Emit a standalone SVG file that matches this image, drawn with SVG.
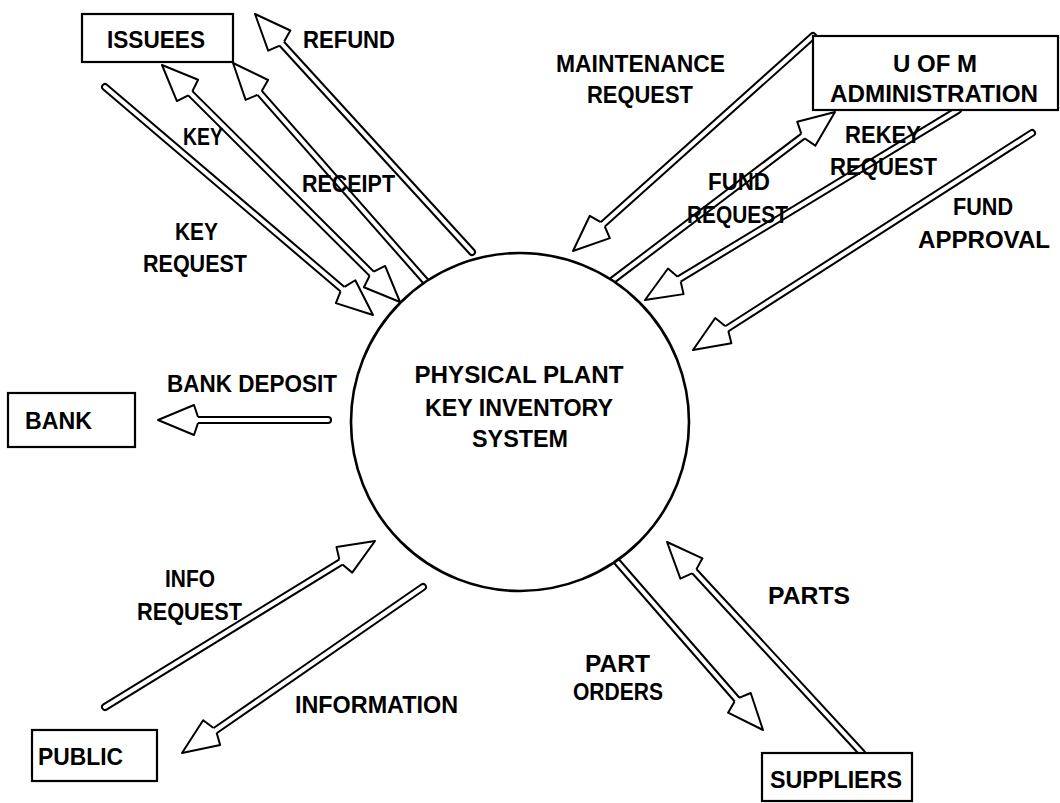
<svg xmlns="http://www.w3.org/2000/svg" xmlns:xlink="http://www.w3.org/1999/xlink" width="1060" height="803" viewBox="0 0 1060 803">
  <style>
    .t { font-family: "Liberation Sans", Arial, sans-serif; font-weight: bold; font-size: 23px; fill: #000; }
    .tc { font-family: "Liberation Sans", Arial, sans-serif; font-weight: bold; font-size: 24px; fill: #000; text-anchor: middle; }
    .box { fill: #fff; stroke: #000; stroke-width: 2.2; }
    .proc { fill: #fff; stroke: #000; stroke-width: 2.6; }
    .so { fill: none; stroke: #000; stroke-width: 8; stroke-linecap: round; }
    .si { fill: none; stroke: #fff; stroke-width: 4; stroke-linecap: round; }
  </style>
  <defs>
    <!-- hollow arrowhead, tip at origin, pointing along +x -->
    <g id="ah">
      <path d="M0,0 L-36,-15 L-40,-3 L-40,3 L-36,15 Z" fill="#fff" stroke="none"/>
      <path d="M-40,-3 L-36,-15 L0,0 L-36,15 L-40,3" fill="none" stroke="#000" stroke-width="2" stroke-linejoin="round"/>
    </g>
    <!-- shaft centre lines -->
    <path id="s-keyreq" d="M105,87 L354,299"/>
    <path id="s-key" d="M180,83 L382,284"/>
    <path id="s-receipt" d="M428,284 L250,82"/>
    <path id="s-refund" d="M472,252 L272,33"/>
    <path id="s-maint" d="M813,36 L592,234"/>
    <path id="s-fundreq" d="M609,283 L815,127"/>
    <path id="s-rekey" d="M958,110 L666,287"/>
    <path id="s-fundapp" d="M1032,133 L714,337"/>
    <path id="s-bank" d="M328,420 L183,420"/>
    <path id="s-inforeq" d="M105,707 L354,554"/>
    <path id="s-info" d="M423,587 L203,739"/>
    <path id="s-orders" d="M612,556 L747,711"/>
    <path id="s-parts" d="M862,753 L684,560"/>
  </defs>

  <rect width="1060" height="803" fill="#fff"/>

  <!-- data flows -->
  <g id="connectors">
    <g id="c-key-request"><use xlink:href="#s-keyreq" class="so"/><use xlink:href="#s-keyreq" class="si"/><use xlink:href="#ah" transform="translate(373,315) rotate(40.4)"/></g>
    <g id="c-key"><use xlink:href="#s-key" class="so"/><use xlink:href="#s-key" class="si"/><use xlink:href="#ah" transform="translate(162,65) rotate(224.9)"/><use xlink:href="#ah" transform="translate(400,302) rotate(44.9)"/></g>
    <g id="c-receipt"><use xlink:href="#s-receipt" class="so"/><use xlink:href="#s-receipt" class="si"/><use xlink:href="#ah" transform="translate(233,63) rotate(228.5)"/></g>
    <g id="c-refund"><use xlink:href="#s-refund" class="so"/><use xlink:href="#s-refund" class="si"/><use xlink:href="#ah" transform="translate(255,14) rotate(227.6)"/></g>
    <g id="c-maintenance"><use xlink:href="#s-maint" class="so"/><use xlink:href="#s-maint" class="si"/><use xlink:href="#ah" transform="translate(573,251) rotate(138.1)"/></g>
    <g id="c-fund-request"><use xlink:href="#s-fundreq" class="so"/><use xlink:href="#s-fundreq" class="si"/><use xlink:href="#ah" transform="translate(835,112) rotate(-37)"/></g>
    <g id="c-rekey"><use xlink:href="#s-rekey" class="so"/><use xlink:href="#s-rekey" class="si"/><use xlink:href="#ah" transform="translate(645,300) rotate(148.7)"/></g>
    <g id="c-fund-approval"><use xlink:href="#s-fundapp" class="so"/><use xlink:href="#s-fundapp" class="si"/><use xlink:href="#ah" transform="translate(693,350) rotate(147.4)"/></g>
    <g id="c-bank-deposit"><use xlink:href="#s-bank" class="so"/><use xlink:href="#s-bank" class="si"/><use xlink:href="#ah" transform="translate(158,420) rotate(180)"/></g>
    <g id="c-info-request"><use xlink:href="#s-inforeq" class="so"/><use xlink:href="#s-inforeq" class="si"/><use xlink:href="#ah" transform="translate(375,541) rotate(-31.6)"/></g>
    <g id="c-information"><use xlink:href="#s-info" class="so"/><use xlink:href="#s-info" class="si"/><use xlink:href="#ah" transform="translate(182,753) rotate(145.4)"/></g>
    <g id="c-part-orders"><use xlink:href="#s-orders" class="so"/><use xlink:href="#s-orders" class="si"/><use xlink:href="#ah" transform="translate(763,730) rotate(49)"/></g>
    <g id="c-parts"><use xlink:href="#s-parts" class="so"/><use xlink:href="#s-parts" class="si"/><use xlink:href="#ah" transform="translate(667,542) rotate(227.3)"/></g>
  </g>

  <!-- central process -->
  <g id="n-system">
    <circle class="proc" cx="520" cy="422" r="169"/>
    <text class="tc" x="519" y="383" textLength="209" lengthAdjust="spacingAndGlyphs">PHYSICAL PLANT</text>
    <text class="tc" x="519" y="416" textLength="188" lengthAdjust="spacingAndGlyphs">KEY INVENTORY</text>
    <text class="tc" x="520" y="447" textLength="96" lengthAdjust="spacingAndGlyphs">SYSTEM</text>
  </g>

  <!-- external entities -->
  <g id="n-issuees">
    <rect class="box" x="82" y="14" width="151" height="48"/>
    <text class="t" x="107" y="48" textLength="98" lengthAdjust="spacingAndGlyphs">ISSUEES</text>
  </g>
  <g id="n-admin">
    <rect class="box" x="813" y="36" width="245" height="74"/>
    <text class="t" x="893" y="72" textLength="84" lengthAdjust="spacingAndGlyphs">U OF M</text>
    <text class="t" x="830" y="102" textLength="208" lengthAdjust="spacingAndGlyphs">ADMINISTRATION</text>
  </g>
  <g id="n-bank">
    <rect class="box" x="8" y="393" width="127" height="54"/>
    <text class="t" x="25" y="429" textLength="67" lengthAdjust="spacingAndGlyphs">BANK</text>
  </g>
  <g id="n-public">
    <rect class="box" x="32" y="730" width="125" height="51"/>
    <text class="t" x="38" y="765" textLength="85" lengthAdjust="spacingAndGlyphs">PUBLIC</text>
  </g>
  <g id="n-suppliers">
    <rect class="box" x="762" y="753" width="150" height="48"/>
    <text class="t" x="770" y="788" textLength="132" lengthAdjust="spacingAndGlyphs">SUPPLIERS</text>
  </g>

  <!-- flow labels -->
  <g id="labels">
    <text class="t" x="303" y="48" textLength="92" lengthAdjust="spacingAndGlyphs">REFUND</text>
    <text class="t" x="183" y="145" textLength="40" lengthAdjust="spacingAndGlyphs">KEY</text>
    <text class="t" x="302" y="192" textLength="93" lengthAdjust="spacingAndGlyphs">RECEIPT</text>
    <text class="t" x="175" y="240" textLength="43" lengthAdjust="spacingAndGlyphs">KEY</text>
    <text class="t" x="143" y="272" textLength="104" lengthAdjust="spacingAndGlyphs">REQUEST</text>
    <text class="t" x="556" y="72" textLength="169" lengthAdjust="spacingAndGlyphs">MAINTENANCE</text>
    <text class="t" x="587" y="103" textLength="106" lengthAdjust="spacingAndGlyphs">REQUEST</text>
    <text class="t" x="845" y="143" textLength="76" lengthAdjust="spacingAndGlyphs">REKEY</text>
    <text class="t" x="830" y="175" textLength="107" lengthAdjust="spacingAndGlyphs">REQUEST</text>
    <text class="t" x="708" y="190" textLength="62" lengthAdjust="spacingAndGlyphs">FUND</text>
    <text class="t" x="687" y="223" textLength="101" lengthAdjust="spacingAndGlyphs">REQUEST</text>
    <text class="t" x="953" y="215" textLength="60" lengthAdjust="spacingAndGlyphs">FUND</text>
    <text class="t" x="918" y="248" textLength="132" lengthAdjust="spacingAndGlyphs">APPROVAL</text>
    <text class="t" x="167" y="392" textLength="170" lengthAdjust="spacingAndGlyphs">BANK DEPOSIT</text>
    <text class="t" x="165" y="587" textLength="50" lengthAdjust="spacingAndGlyphs">INFO</text>
    <text class="t" x="137" y="620" textLength="105" lengthAdjust="spacingAndGlyphs">REQUEST</text>
    <text class="t" x="295" y="713" textLength="163" lengthAdjust="spacingAndGlyphs">INFORMATION</text>
    <text class="t" x="585" y="672" textLength="65" lengthAdjust="spacingAndGlyphs">PART</text>
    <text class="t" x="573" y="700" textLength="90" lengthAdjust="spacingAndGlyphs">ORDERS</text>
    <text class="t" x="768" y="604" textLength="82" lengthAdjust="spacingAndGlyphs">PARTS</text>
  </g>
</svg>
